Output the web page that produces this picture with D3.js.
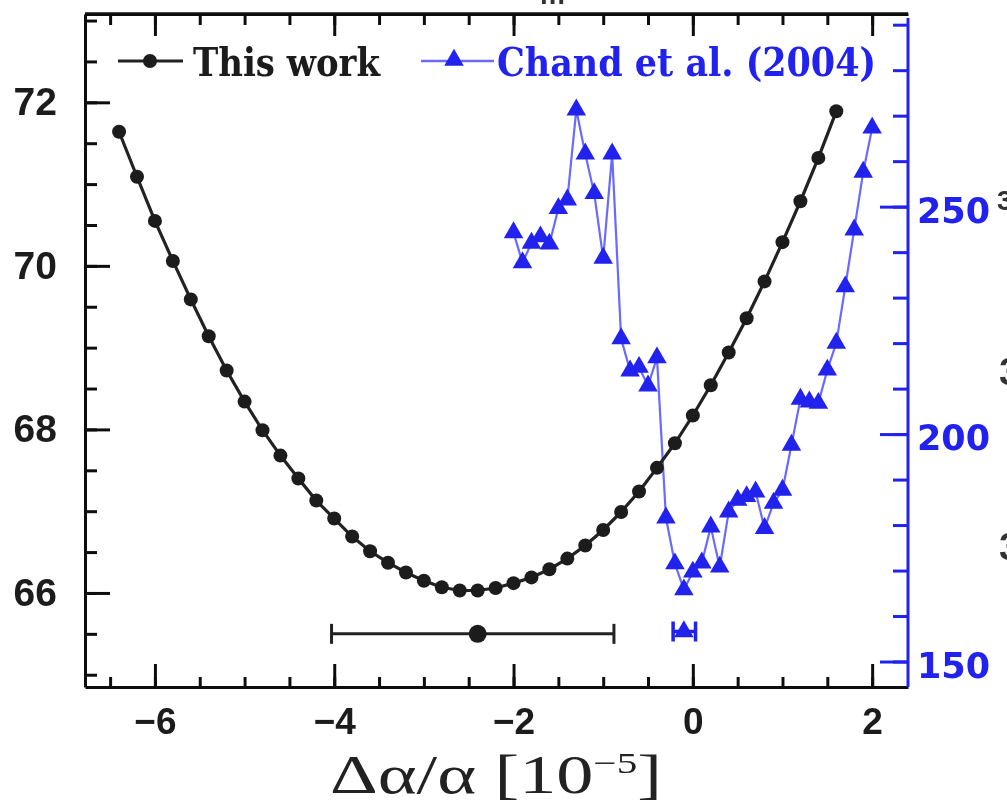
<!DOCTYPE html>
<html>
<head>
<meta charset="utf-8">
<script src="https://cdn.jsdelivr.net/npm/d3@7"></script>
<style>
    html, body { margin: 0; padding: 0; background: #fff; }
    svg { display: block; }
</style>
</head>
<body>
<div id="chart"></div>
<script>
// "This work" curve (left axis)
var workX = [-6.4, -6.2, -6.0, -5.8, -5.6, -5.4, -5.2, -5.0, -4.8, -4.6,
    -4.4, -4.2, -4.0, -3.8, -3.6, -3.4, -3.2, -3.0, -2.8, -2.6,
    -2.4, -2.2, -2.0, -1.8, -1.6, -1.4, -1.2, -1.0, -0.8, -0.6,
    -0.4, -0.2, 0.0, 0.2, 0.4, 0.6, 0.8, 1.0, 1.2, 1.4, 1.6];
var workY = [71.64, 71.09, 70.55, 70.06, 69.59, 69.14, 68.72, 68.34, 67.99, 67.68,
    67.40, 67.13, 66.91, 66.69, 66.51, 66.37, 66.25, 66.15, 66.07, 66.03,
    66.03, 66.06, 66.12, 66.19, 66.29, 66.42, 66.58, 66.77, 66.99, 67.24,
    67.53, 67.83, 68.17, 68.54, 68.94, 69.36, 69.81, 70.29, 70.79, 71.32, 71.89];

// Chand et al. (2004) curve (right axis)
var chandX = [-2.0, -1.9, -1.8, -1.7, -1.6, -1.5, -1.4, -1.3, -1.2, -1.1,
    -1.0, -0.9, -0.8, -0.7, -0.6, -0.5, -0.4, -0.3, -0.2, -0.1,
    0.0, 0.1, 0.2, 0.3, 0.4, 0.5, 0.6, 0.7, 0.8, 0.9,
    1.0, 1.1, 1.2, 1.3, 1.4, 1.5, 1.6, 1.7, 1.8, 1.9, 2.0];
var chandY = [244.3, 237.7, 242.0, 243.4, 241.8, 249.6, 251.5, 271.3, 261.6, 252.9,
    238.7, 261.6, 221.0, 213.9, 214.7, 210.6, 216.8, 181.6, 171.5, 165.8,
    169.7, 171.7, 179.6, 170.8, 182.9, 185.5, 186.3, 187.3, 179.3, 184.8,
    187.7, 197.6, 207.7, 207.1, 206.8, 214.1, 220.0, 232.4, 244.9, 257.6, 267.3];

// best fits with error bars: [low, centre, high, y]
var workFit = [-4.03, -2.4, -0.88, 65.5];
var chandFit = [-0.22, -0.1, 0.03, 156.6];

var xTicks = [-6, -4, -2, 0, 2];
var leftTicks = [66, 68, 70, 72];
var rightTicks = [150, 200, 250];

var legendNames = ["This work", "Chand et al. (2004)"];

var W = 1007, H = 808;
var padL = 85, padR = 908, padT = 14, padB = 687;
var blue = "#2020ee";

var svg = d3.select("#chart").append("svg")
    .attr("width", W).attr("height", H);

svg.append("defs").append("filter").attr("id", "soft")
    .append("feGaussianBlur").attr("stdDeviation", 0.6);

var g = svg.append("g").attr("filter", "url(#soft)");

var x = d3.scaleLinear().domain([-6.78, 2.40]).range([padL, padR]);
var yL = d3.scaleLinear().domain([64.85, 73.08]).range([padB, padT]);
var yR = d3.scaleLinear().domain([144.4, 292.35]).range([padB, padT]);

function halfSteps(a, b, s) {
    var out = [];
    for (var v = a; v <= b + 1e-9; v += s) out.push(+v.toFixed(2));
    return out;
}

function styleAxis(sel, color, width) {
    sel.selectAll("path").attr("stroke", color).attr("stroke-width", width);
    sel.selectAll("line").attr("stroke", color).attr("stroke-width", width);
}

/* bottom axis */
var bx = g.append("g").attr("transform", "translate(0," + padB + ")")
    .call(d3.axisBottom(x).tickValues(halfSteps(-6.5, 2, 0.5)).tickSize(-10).tickSizeOuter(0).tickFormat(""));
styleAxis(bx, "#111", 3);
var bxm = g.append("g").attr("transform", "translate(0," + padB + ")")
    .call(d3.axisBottom(x).tickValues(xTicks).tickSize(-23).tickSizeOuter(0).tickPadding(21)
        .tickFormat(function (d) { return d < 0 ? "\u2212" + Math.abs(d) : d; }));
styleAxis(bxm, "#111", 3);
bxm.select("path").remove();
bxm.selectAll("text").attr("fill", "#1a1a1a")
    .style("font-family", "Liberation Sans, Arial, sans-serif")
    .style("font-weight", "bold").style("font-size", "37px");

/* top axis */
var tx = g.append("g").attr("transform", "translate(0," + padT + ")")
    .call(d3.axisTop(x).tickValues(halfSteps(-6.5, 2, 0.5)).tickSize(-11).tickSizeOuter(0).tickFormat(""));
styleAxis(tx, "#111", 3);
var txm = g.append("g").attr("transform", "translate(0," + padT + ")")
    .call(d3.axisTop(x).tickValues(xTicks).tickSize(-22).tickSizeOuter(0).tickFormat(""));
styleAxis(txm, "#111", 3);
txm.select("path").remove();

/* left axis */
var ly = g.append("g").attr("transform", "translate(" + padL + ",0)")
    .call(d3.axisLeft(yL).tickValues(halfSteps(65, 73, 0.5)).tickSize(-12).tickSizeOuter(0).tickFormat(""));
styleAxis(ly, "#111", 3);
var lym = g.append("g").attr("transform", "translate(" + padL + ",0)")
    .call(d3.axisLeft(yL).tickValues(leftTicks).tickSize(-25).tickSizeOuter(0).tickPadding(28));
styleAxis(lym, "#111", 3);
lym.select("path").remove();
lym.selectAll("text").attr("fill", "#1a1a1a")
    .style("font-family", "Liberation Sans, Arial, sans-serif")
    .style("font-weight", "bold").style("font-size", "39px");

/* right axis, blue */
var ry = g.append("g").attr("transform", "translate(" + padR + ",0)")
    .call(d3.axisRight(yR).tickValues(d3.range(150, 291, 10)).tickSize(-15).tickSizeOuter(0).tickFormat(""));
styleAxis(ry, blue, 3);
ry.select("path").attr("d", "M0," + (padT + 4) + "V" + padB);
var rym = g.append("g").attr("transform", "translate(" + padR + ",0)")
    .call(d3.axisRight(yR).tickValues(rightTicks).tickSize(-28).tickSizeOuter(0).tickPadding(9));
styleAxis(rym, blue, 3);
rym.select("path").remove();
rym.selectAll("text").attr("fill", blue).attr("dy", "0.45em")
    .style("font-family", "DejaVu Sans, Verdana, sans-serif")
    .style("font-weight", "bold").style("font-size", "35px");

/* Chand et al. series */
var chand = chandX.map(function (d, i) { return [d, chandY[i]]; });
g.append("path").datum(chand)
    .attr("fill", "none").attr("stroke", "#6a6aff").attr("stroke-width", 2.2)
    .attr("d", d3.line().x(function (d) { return x(d[0]); }).y(function (d) { return yR(d[1]); }));

var tri = d3.symbol().type(d3.symbolTriangle).size(165);
g.selectAll("path.tri").data(chand).enter().append("path")
    .attr("class", "tri")
    .attr("d", tri)
    .attr("fill", blue)
    .attr("transform", function (d) { return "translate(" + x(d[0]) + "," + yR(d[1]) + ")"; });

/* This work series */
var work = workX.map(function (d, i) { return [d, workY[i]]; });
g.append("path").datum(work)
    .attr("fill", "none").attr("stroke", "#222").attr("stroke-width", 3.2)
    .attr("d", d3.line().x(function (d) { return x(d[0]); }).y(function (d) { return yL(d[1]); }));
g.selectAll("circle.dot").data(work).enter().append("circle")
    .attr("class", "dot")
    .attr("cx", function (d) { return x(d[0]); })
    .attr("cy", function (d) { return yL(d[1]); })
    .attr("r", 7)
    .attr("fill", "#1c1c1c");

/* error bars */
function errBar(fit, yScale, color, cap, lw) {
    var yy = yScale(fit[3]);
    var eb = g.append("g");
    eb.append("line").attr("x1", x(fit[0])).attr("x2", x(fit[2]))
        .attr("y1", yy).attr("y2", yy).attr("stroke", color).attr("stroke-width", lw);
    [fit[0], fit[2]].forEach(function (v) {
        eb.append("line").attr("x1", x(v)).attr("x2", x(v))
            .attr("y1", yy - cap).attr("y2", yy + cap)
            .attr("stroke", color).attr("stroke-width", lw);
    });
    return eb;
}
errBar(workFit, yL, "#222", 10, 3)
    .append("circle").attr("cx", x(workFit[1])).attr("cy", yL(workFit[3])).attr("r", 9).attr("fill", "#1c1c1c");
errBar(chandFit, yR, blue, 10, 3.5)
    .append("path").attr("d", tri)
    .attr("fill", blue)
    .attr("transform", "translate(" + x(chandFit[1]) + "," + yR(chandFit[3]) + ")");

/* top frame line */
g.append("line").attr("x1", padL).attr("x2", padR).attr("y1", padT).attr("y2", padT)
    .attr("stroke", "#111").attr("stroke-width", 3.5);

/* legend */
var leg = g.append("g");
leg.append("line").attr("x1", 118).attr("x2", 183).attr("y1", 61).attr("y2", 61)
    .attr("stroke", "#222").attr("stroke-width", 3);
leg.append("circle").attr("cx", 150).attr("cy", 61).attr("r", 7).attr("fill", "#1c1c1c");
leg.append("text").attr("x", 193).attr("y", 76).text(legendNames[0])
    .attr("fill", "#1a1a1a").attr("textLength", 187).attr("lengthAdjust", "spacingAndGlyphs")
    .style("font-family", "DejaVu Serif, serif").style("font-weight", "bold").style("font-size", "40px");
leg.append("line").attr("x1", 421).attr("x2", 494).attr("y1", 61).attr("y2", 61)
    .attr("stroke", "#6a6aff").attr("stroke-width", 2.5);
leg.append("path").attr("d", tri).attr("fill", blue).attr("transform", "translate(454,60)");
leg.append("text").attr("x", 497).attr("y", 76).text(legendNames[1])
    .attr("fill", blue).attr("textLength", 379).attr("lengthAdjust", "spacingAndGlyphs")
    .style("font-family", "DejaVu Serif, serif").style("font-weight", "bold").style("font-size", "40px");

/* x axis title */
var title = g.append("text").attr("x", 496).attr("y", 793)
    .attr("text-anchor", "middle")
    .attr("textLength", 332).attr("lengthAdjust", "spacingAndGlyphs")
    .style("font-family", "Liberation Serif, Times New Roman, serif")
    .style("font-size", "54px").attr("fill", "#222");
title.append("tspan").text("\u0394\u03b1/\u03b1 [10");
title.append("tspan").attr("dy", -20).style("font-size", "30px").text("\u22125");
title.append("tspan").attr("dy", 20).text("]");

/* cut-off glyphs from the neighbouring panel */
var stray = g.append("g").attr("fill", "#333")
    .style("font-family", "Liberation Sans, Arial, sans-serif").style("font-weight", "bold");
stray.append("text").attr("x", 997).attr("y", 210).style("font-size", "28px").text("3");
stray.append("text").attr("x", 999).attr("y", 385).style("font-size", "38px").text("3");
stray.append("text").attr("x", 999).attr("y", 560).style("font-size", "38px").text("3");
stray.append("text").attr("x", 540).attr("y", 4).style("font-size", "28px").text("m");
</script>
</body>
</html>
